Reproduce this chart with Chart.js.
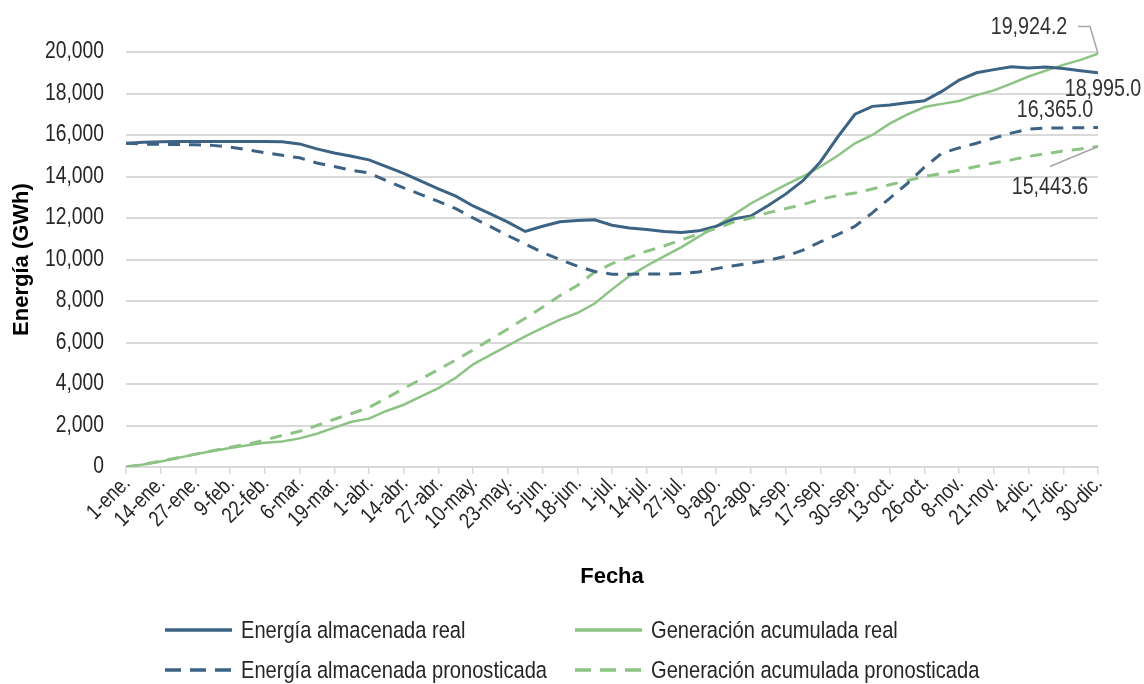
<!DOCTYPE html>
<html>
<head>
<meta charset="utf-8">
<script src="https://cdn.jsdelivr.net/npm/chart.js@4.4.1/dist/chart.umd.min.js"></script>
<style>
  html, body { margin: 0; padding: 0; background: #fff; }
  #wrap { position: relative; width: 1144px; height: 684px; overflow: hidden; }
  canvas { position: absolute; left: 0; top: 0; }
  .leg { position: absolute; font-family: 'Liberation Sans', Arial, sans-serif; font-size: 24.5px; color: #262626; white-space: nowrap; line-height: 1; }
  .leg svg { position: absolute; }
  .leg span { position: absolute; left: 76px; top: 0; line-height: 24px; transform: scaleX(0.82); transform-origin: left center; }
</style>
</head>
<body>
<div id="wrap">
  <canvas id="c" width="1144" height="684"></canvas>
  <div id="legend"></div>
</div>
<script>
// ---- DATA ----
const tickLabels = ['1-ene.','14-ene.','27-ene.','9-feb.','22-feb.','6-mar.','19-mar.','1-abr.','14-abr.','27-abr.','10-may.','23-may.','5-jun.','18-jun.','1-jul.','14-jul.','27-jul.','9-ago.','22-ago.','4-sep.','17-sep.','30-sep.','13-oct.','26-oct.','8-nov.','21-nov.','4-dic.','17-dic.','30-dic.'];

// day of year (0 = 1-ene.)
const days = [0,6.5,13,19.5,26,32.5,39,45.5,52,58.5,65,71.5,78,84.5,91,97.5,104,110.5,117,123.5,130,136.5,143,149.5,156,162.5,169,175.5,182,188.5,195,201.5,208,214.5,221,227.5,234,240.5,247,253.5,260,266.5,273,279.5,286,292.5,299,305.5,312,318.5,325,331.5,338,344.5,351,357.5,364];

const energiaReal = [15600,15650,15680,15690,15690,15690,15690,15690,15690,15680,15570,15330,15130,14980,14800,14480,14150,13780,13400,13050,12580,12200,11800,11350,11600,11820,11880,11910,11650,11520,11450,11350,11300,11380,11600,11950,12100,12600,13150,13800,14700,15900,17000,17380,17450,17550,17650,18100,18650,19000,19150,19290,19230,19280,19200,19100,18995];

const energiaPron = [15600,15560,15550,15540,15530,15500,15420,15290,15150,15020,14900,14650,14480,14300,14170,13800,13450,13130,12800,12450,12000,11580,11150,10750,10340,10000,9680,9420,9290,9290,9300,9300,9320,9400,9560,9700,9830,9960,10150,10450,10850,11200,11600,12250,12950,13650,14450,15120,15380,15600,15850,16090,16290,16330,16340,16350,16365];

const generacionReal = [0,120,270,440,610,770,915,1050,1170,1230,1380,1600,1900,2180,2330,2700,3000,3400,3800,4300,4950,5400,5850,6300,6700,7100,7420,7880,8560,9200,9700,10150,10600,11100,11600,12150,12700,13150,13600,14000,14470,15000,15600,16000,16550,16980,17350,17500,17640,17920,18150,18480,18820,19100,19380,19620,19924.2];

const generacionPron = [0,130,280,450,620,790,950,1100,1300,1520,1720,2000,2300,2580,2870,3320,3780,4240,4700,5160,5640,6150,6650,7170,7700,8260,8750,9400,9800,10100,10400,10650,10950,11230,11500,11800,12000,12250,12450,12650,12900,13080,13200,13400,13600,13800,14000,14150,14300,14480,14650,14800,14970,15100,15230,15330,15443.6];

const seriesNames = ['Energía almacenada real','Generación acumulada real','Energía almacenada pronosticada','Generación acumulada pronosticada'];

// ---- STYLE ----
const BLUE = '#3D6384';
const GREEN = '#8DC385';
const REG = "'Liberation Sans', Arial, sans-serif";
const NARROW_X = 0.82; // horizontal compression to mimic a narrow face

function pts(ys) { return days.map((d, i) => ({ x: d, y: ys[i] })); }

function narrowText(ctx, text, x, y, rot, align) {
  ctx.save();
  ctx.translate(x, y);
  if (rot) ctx.rotate(rot);
  ctx.scale(NARROW_X, 1);
  ctx.textAlign = align;
  ctx.fillText(text, 0, 0);
  ctx.restore();
}

// tick labels drawn from the library's scale ticks (compressed face)
const narrowTicks = {
  id: 'narrowTicks',
  afterDraw(chart) {
    const ctx = chart.ctx;
    const xs = chart.scales.x, ys = chart.scales.y;
    ctx.save();
    ctx.fillStyle = '#262626';
    ctx.textBaseline = 'middle';
    ctx.font = '23.5px ' + REG;
    ys.ticks.forEach(t => {
      narrowText(ctx, t.value.toLocaleString('en-US'), chart.chartArea.left - 22, ys.getPixelForValue(t.value), 0, 'right');
    });
    ctx.font = '22px ' + REG;
    xs.ticks.forEach(t => {
      const lbl = tickLabels[Math.round(t.value / 13)];
      narrowText(ctx, lbl, xs.getPixelForValue(t.value) + 1, chart.chartArea.bottom + 13, -Math.PI / 4, 'right');
    });
    ctx.restore();
  }
};

const endLabels = {
  id: 'endLabels',
  afterDatasetsDraw(chart) {
    const ctx = chart.ctx;
    const xs = chart.scales.x, ys = chart.scales.y;
    const lx = xs.getPixelForValue(days[days.length - 1]);
    const fmt = v => v.toLocaleString('en-US', { minimumFractionDigits: 1, maximumFractionDigits: 1 });
    const last = a => a[a.length - 1];
    ctx.save();
    ctx.font = '24px ' + REG;
    ctx.fillStyle = '#333333';
    ctx.textBaseline = 'middle';
    const yG = ys.getPixelForValue(last(generacionReal));
    const yE = ys.getPixelForValue(last(energiaReal));
    const yEP = ys.getPixelForValue(last(energiaPron));
    const yGP = ys.getPixelForValue(last(generacionPron));
    narrowText(ctx, fmt(last(generacionReal)), lx - 69, yG - 26, 0, 'center');
    narrowText(ctx, fmt(last(energiaReal)), lx + 5, yE + 17, 0, 'center');
    narrowText(ctx, fmt(last(energiaPron)), lx - 43, yEP - 17, 0, 'center');
    narrowText(ctx, fmt(last(generacionPron)), lx - 48, yGP + 41, 0, 'center');
    // leader lines
    ctx.strokeStyle = '#A6A6A6';
    ctx.lineWidth = 1.5;
    ctx.beginPath();
    ctx.moveTo(lx - 20, yG - 27);
    ctx.lineTo(lx - 8, yG - 27);
    ctx.lineTo(lx, yG);
    ctx.stroke();
    ctx.beginPath();
    ctx.moveTo(lx - 48, yGP + 20);
    ctx.lineTo(lx, yGP);
    ctx.stroke();
    ctx.restore();
  }
};

const chart = new Chart(document.getElementById('c'), {
  type: 'line',
  data: {
    datasets: [
      { label: seriesNames[2], data: pts(energiaPron), borderColor: BLUE, borderWidth: 3, borderDash: [12, 9], pointRadius: 0, tension: 0, fill: false },
      { label: seriesNames[3], data: pts(generacionPron), borderColor: GREEN, borderWidth: 3, borderDash: [12, 9], pointRadius: 0, tension: 0, fill: false },
      { label: seriesNames[0], data: pts(energiaReal), borderColor: BLUE, borderWidth: 3, pointRadius: 0, tension: 0, fill: false },
      { label: seriesNames[1], data: pts(generacionReal), borderColor: GREEN, borderWidth: 2.5, pointRadius: 0, tension: 0, fill: false }
    ]
  },
  options: {
    responsive: false,
    animation: false,
    devicePixelRatio: 1,
    layout: { padding: { left: 0, top: 52, right: 46, bottom: 94 } },
    plugins: { legend: { display: false }, tooltip: { enabled: false } },
    scales: {
      x: {
        type: 'linear',
        min: 0, max: 364,
        afterFit(s) { s.height = 123; },
        afterBuildTicks(s) { s.ticks = tickLabels.map((t, i) => ({ value: i * 13 })); },
        ticks: { display: false },
        grid: { drawOnChartArea: false, drawTicks: true, tickLength: 7, color: '#D9D9D9', lineWidth: 1.5 },
        border: { display: true, color: '#D9D9D9', width: 2 },
        title: { display: true, text: 'Fecha', color: '#000', font: { family: REG, size: 22, weight: 'bold' }, padding: 0 }
      },
      y: {
        min: 0, max: 20000,
        afterFit(s) { s.width = 126; },
        ticks: { stepSize: 2000, display: false },
        grid: { color: '#D9D9D9', lineWidth: 2, drawTicks: false },
        border: { display: false },
        title: { display: true, text: 'Energía (GWh)', color: '#000', font: { family: REG, size: 22, weight: 'bold' }, padding: { top: 9, bottom: 0 } }
      }
    }
  },
  plugins: [narrowTicks, endLabels]
});

// ---- HTML legend ----
const legendItems = [
  { name: seriesNames[0], color: BLUE, dash: false, x: 165, y: 630 },
  { name: seriesNames[1], color: GREEN, dash: false, x: 575, y: 630 },
  { name: seriesNames[2], color: BLUE, dash: true, x: 165, y: 670 },
  { name: seriesNames[3], color: GREEN, dash: true, x: 575, y: 670 }
];
const legEl = document.getElementById('legend');
legendItems.forEach(it => {
  const d = document.createElement('div');
  d.className = 'leg';
  d.style.left = it.x + 'px';
  d.style.top = (it.y - 12) + 'px';
  d.style.height = '24px';
  d.innerHTML = '<svg width="68" height="24" style="left:0;top:0"><line x1="0" y1="12" x2="67" y2="12" stroke="' + it.color + '" stroke-width="3.5"' + (it.dash ? ' stroke-dasharray="16 9"' : '') + '/></svg>' +
    '<span>' + it.name + '</span>';
  legEl.appendChild(d);
});
</script>
</body>
</html>
